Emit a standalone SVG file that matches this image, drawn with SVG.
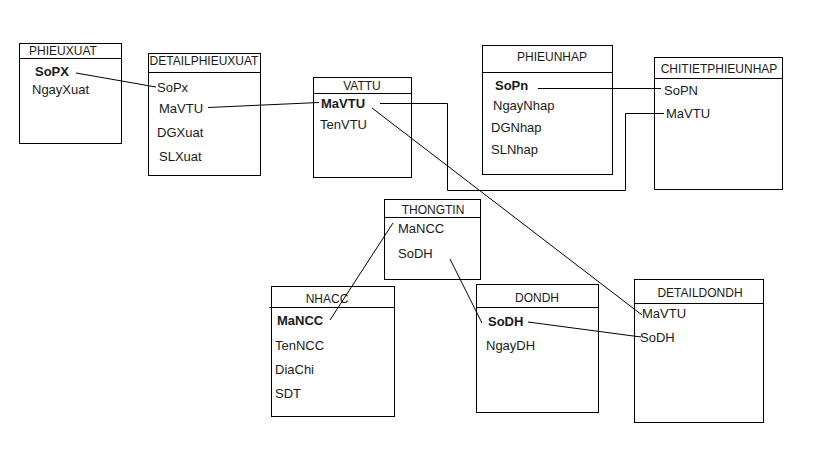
<svg xmlns="http://www.w3.org/2000/svg" width="819" height="460" viewBox="0 0 819 460">
<style>
.box{fill:#fff;stroke:#000;stroke-width:1}
.sep{stroke:#000;stroke-width:1}
.t{font-family:"Liberation Sans",Arial,sans-serif;font-size:12px;fill:#1a1a1a;text-anchor:middle}
.f{font-family:"Liberation Sans",Arial,sans-serif;font-size:13px;fill:#1a1a1a}
.b{font-weight:bold}
.c{fill:none;stroke:#000;stroke-width:1}
</style>
<rect width="819" height="460" fill="#fff"/>
<g id="PHIEUXUAT">
<rect class="box" x="19.5" y="43.5" width="102" height="100"/>
<line class="sep" x1="19.5" y1="58.5" x2="121.5" y2="58.5"/>
<text class="t" x="63" y="55">PHIEUXUAT</text>
<text class="f b" x="35" y="76">SoPX</text>
<text class="f" x="32" y="94">NgayXuat</text>
</g>
<g id="DETAILPHIEUXUAT">
<rect class="box" x="148.5" y="53.5" width="112" height="122"/>
<line class="sep" x1="148.5" y1="72.5" x2="260.5" y2="72.5"/>
<text class="t" x="204" y="65">DETAILPHIEUXUAT</text>
<text class="f" x="157" y="92">SoPx</text>
<text class="f" x="159" y="113">MaVTU</text>
<text class="f" x="157" y="137">DGXuat</text>
<text class="f" x="159" y="161">SLXuat</text>
</g>
<g id="VATTU">
<rect class="box" x="313.5" y="77.5" width="98" height="100"/>
<line class="sep" x1="313.5" y1="93.5" x2="411.5" y2="93.5"/>
<text class="t" x="362" y="90">VATTU</text>
<text class="f b" x="321" y="108">MaVTU</text>
<text class="f" x="320" y="129">TenVTU</text>
</g>
<g id="PHIEUNHAP">
<rect class="box" x="482.5" y="45.5" width="130" height="129"/>
<line class="sep" x1="482.5" y1="72.5" x2="612.5" y2="72.5"/>
<text class="t" x="552" y="61">PHIEUNHAP</text>
<text class="f b" x="495" y="90">SoPn</text>
<text class="f" x="493" y="110">NgayNhap</text>
<text class="f" x="491" y="132">DGNhap</text>
<text class="f" x="491" y="154">SLNhap</text>
</g>
<g id="CHITIETPHIEUNHAP">
<rect class="box" x="654.5" y="57.5" width="128" height="132"/>
<line class="sep" x1="654.5" y1="78.5" x2="782.5" y2="78.5"/>
<text class="t" x="719" y="73">CHITIETPHIEUNHAP</text>
<text class="f" x="664" y="95">SoPN</text>
<text class="f" x="666" y="118">MaVTU</text>
</g>
<g id="THONGTIN">
<rect class="box" x="384.5" y="199.5" width="96" height="80"/>
<line class="sep" x1="384.5" y1="217.5" x2="480.5" y2="217.5"/>
<text class="t" x="433" y="214">THONGTIN</text>
<text class="f" x="398" y="233">MaNCC</text>
<text class="f" x="398" y="258">SoDH</text>
</g>
<g id="NHACC">
<rect class="box" x="271.5" y="286.5" width="123" height="130"/>
<line class="sep" x1="269.5" y1="307.5" x2="394.5" y2="307.5"/>
<text class="t" x="327" y="303">NHACC</text>
<text class="f b" x="277" y="325">MaNCC</text>
<text class="f" x="275" y="350">TenNCC</text>
<text class="f" x="275" y="374">DiaChi</text>
<text class="f" x="275" y="398">SDT</text>
</g>
<g id="DONDH">
<rect class="box" x="476.5" y="284.5" width="122" height="128"/>
<line class="sep" x1="476.5" y1="307.5" x2="598.5" y2="307.5"/>
<text class="t" x="537" y="302">DONDH</text>
<text class="f b" x="488" y="326">SoDH</text>
<text class="f" x="486" y="350">NgayDH</text>
</g>
<g id="DETAILDONDH">
<rect class="box" x="634.5" y="279.5" width="129" height="143"/>
<line class="sep" x1="634.5" y1="303.5" x2="763.5" y2="303.5"/>
<text class="t" x="700" y="297">DETAILDONDH</text>
<text class="f" x="642" y="318">MaVTU</text>
<text class="f" x="640" y="342">SoDH</text>
</g>
<g id="connectors">
<line class="c" x1="76" y1="73" x2="156" y2="87"/>
<line class="c" x1="208" y1="107.5" x2="319" y2="102.5"/>
<polyline class="c" points="380,103.5 447.5,103.5 447.5,190.5 625.5,190.5 625.5,113.5 664,113.5"/>
<line class="c" x1="372" y1="108" x2="642" y2="315"/>
<line class="c" x1="538" y1="88.5" x2="661" y2="88.5"/>
<line class="c" x1="393" y1="223" x2="330" y2="320"/>
<line class="c" x1="450" y1="259" x2="482" y2="323"/>
<line class="c" x1="528" y1="322" x2="641" y2="337"/>
</g>
</svg>
